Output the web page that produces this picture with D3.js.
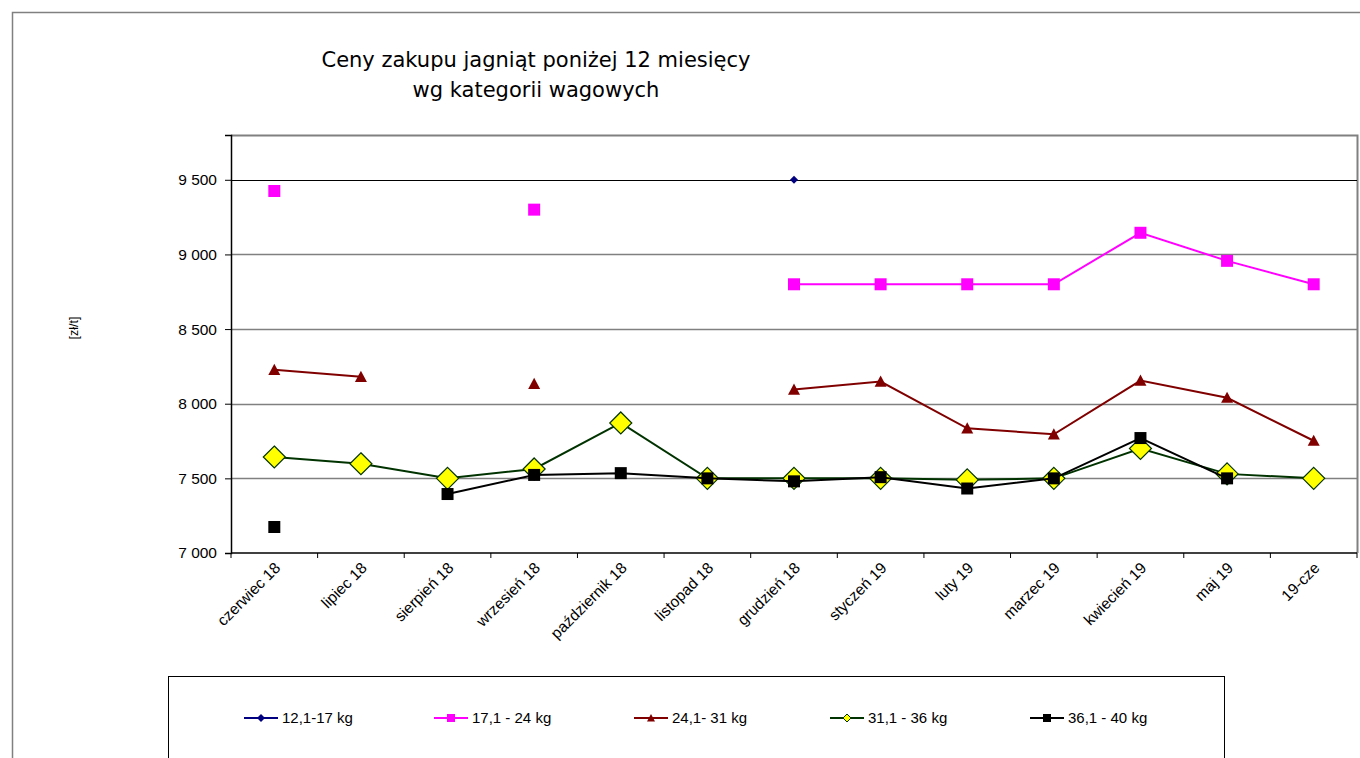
<!DOCTYPE html>
<html>
<head>
<meta charset="utf-8">
<script src="https://cdn.jsdelivr.net/npm/d3@7"></script>
<style>
  body { margin: 0; background: #fff; }
  text { font-family: Arial, "Liberation Sans", sans-serif; }
</style>
</head>
<body>
<div id="chart"></div>
<script>
// data
const months = ["czerwiec 18", "lipiec 18", "sierpień 18", "wrzesień 18", "październik 18", "listopad 18",
    "grudzień 18", "styczeń 19", "luty 19", "marzec 19", "kwiecień 19", "maj 19", "19-cze"];
const s12_17 = [null, null, null, null, null, null, 9500, null, null, null, null, null, null];
const s17_24 = [9425, null, null, 9300, null, null, 8800, 8800, 8800, 8800, 9145, 8957, 8800];
const s24_31 = [8227, 8180, null, 8133, null, null, 8095, 8148, 7835, 7795, 8155, 8040, 7752];
const s31_36 = [7643, 7598, 7500, 7563, 7871, 7500, 7500, 7500, 7490, 7500, 7700, 7530, 7500];
const s36_40 = [7174, null, 7395, 7523, 7535, 7500, 7480, 7508, 7432, 7500, 7770, 7500, null];
const seriesNames = ["12,1-17 kg", "17,1 - 24 kg", "24,1- 31 kg", "31,1 - 36 kg", "36,1 - 40 kg"];
const yTicks = [7000, 7500, 8000, 8500, 9000, 9500];

const series = [
    { name: seriesNames[0], values: s12_17, stroke: "#000080", fill: "#000080", shape: "diamond", size: 8 },
    { name: seriesNames[1], values: s17_24, stroke: "#ff00ff", fill: "#ff00ff", shape: "square", size: 12 },
    { name: seriesNames[2], values: s24_31, stroke: "#800000", fill: "#800000", shape: "triangle", size: 12 },
    { name: seriesNames[3], values: s31_36, stroke: "#003300", fill: "#ffff00", shape: "diamond", size: 22 },
    { name: seriesNames[4], values: s36_40, stroke: "#000000", fill: "#000000", shape: "square", size: 12 }
];

const W = 1360, H = 758;
const svg = d3.select("#chart").append("svg").attr("width", W).attr("height", H);

// outer chart frame
svg.append("path").attr("d", "M12.5,758 L12.5,12.5 L1360,12.5")
    .attr("fill", "none").attr("stroke", "#808080").attr("stroke-width", 1.5);

// title
svg.append("text").attr("x", 536).attr("y", 67).attr("text-anchor", "middle")
    .style("font-family", "'Comic Sans MS', 'DejaVu Sans', sans-serif").style("font-size", "21px")
    .text("Ceny zakupu jagniąt poniżej 12 miesięcy");
svg.append("text").attr("x", 536).attr("y", 97).attr("text-anchor", "middle")
    .style("font-family", "'Comic Sans MS', 'DejaVu Sans', sans-serif").style("font-size", "21px")
    .text("wg kategorii wagowych");

const pLeft = 231, pRight = 1357, pTop = 135, pBottom = 553;
const x = d3.scaleBand().domain(months).range([pLeft, pRight]);
const y = d3.scaleLinear().domain([7000, 9800]).range([pBottom, pTop]);

// plot frame (gray top/right)
svg.append("path").attr("d", `M${pLeft},${pTop + 0.5} L${pRight + 0.5},${pTop + 0.5} L${pRight + 0.5},${pBottom}`)
    .attr("fill", "none").attr("stroke", "#808080").attr("stroke-width", 2);

// gridlines
svg.append("g").selectAll("line").data(yTicks.filter(d => d > 7000)).join("line")
    .attr("x1", pLeft).attr("x2", pRight)
    .attr("y1", d => Math.round(y(d)) + 0.5).attr("y2", d => Math.round(y(d)) + 0.5)
    .attr("stroke", d => d === 9500 ? "#000" : "#808080")
    .attr("stroke-width", d => d === 9500 ? 1 : 1.5);

// y axis
const yAxis = svg.append("g").attr("transform", `translate(${pLeft},0)`)
    .call(d3.axisLeft(y).tickValues(yTicks).tickSize(6).tickPadding(8)
        .tickFormat(d => d3.format(",")(d).replace(",", " ")));
yAxis.select(".domain").attr("stroke", "#000").attr("stroke-width", 1.5);
yAxis.selectAll("text").style("font-size", "15.5px").attr("fill", "#000");

// x axis line + ticks between categories
svg.append("line").attr("x1", pLeft).attr("x2", pRight).attr("y1", pBottom).attr("y2", pBottom)
    .attr("stroke", "#000").attr("stroke-width", 1.5);
svg.append("g").selectAll("line").data(d3.range(months.length + 1)).join("line")
    .attr("x1", i => pLeft + i * x.step()).attr("x2", i => pLeft + i * x.step())
    .attr("y1", pBottom).attr("y2", pBottom + 5)
    .attr("stroke", "#000");
svg.append("g").selectAll("text").data(months).join("text")
    .attr("transform", d => `translate(${x(d) + x.bandwidth() / 2 + 7},${pBottom + 16}) rotate(-45)`)
    .attr("text-anchor", "end")
    .style("font-size", "15.5px")
    .text(d => d);

// y title
svg.append("text").attr("transform", "translate(78,328) rotate(-90)")
    .attr("text-anchor", "middle").style("font-size", "12.5px").text("[zł/t]");

function symbolPath(shape, size) {
    const h = size / 2;
    if (shape === "square") return `M${-h},${-h}H${h}V${h}H${-h}Z`;
    if (shape === "diamond") return `M0,${-h}L${h},0L0,${h}L${-h},0Z`;
    return `M0,${-h}L${h},${h * 0.85}L${-h},${h * 0.85}Z`;
}

const line = d3.line()
    .defined(d => d.v != null)
    .x(d => x(d.m) + x.bandwidth() / 2)
    .y(d => y(d.v));

series.forEach(s => {
    const pts = months.map((m, i) => ({ m: m, v: s.values[i] }));
    svg.append("path").datum(pts)
        .attr("fill", "none").attr("stroke", s.stroke).attr("stroke-width", 2)
        .attr("d", line);
    svg.append("g").selectAll("path").data(pts.filter(d => d.v != null)).join("path")
        .attr("transform", d => `translate(${x(d.m) + x.bandwidth() / 2},${y(d.v)})`)
        .attr("d", symbolPath(s.shape, s.size))
        .attr("fill", s.fill)
        .attr("stroke", s.shape === "diamond" && s.size > 10 ? s.stroke : "none")
        .attr("stroke-width", 1.2);
});

// legend
svg.append("rect").attr("x", 168.5).attr("y", 676.5).attr("width", 1056).attr("height", 100)
    .attr("fill", "none").attr("stroke", "#000").attr("stroke-width", 1);
const legendX = [244, 434, 634, 830, 1030];
const lg = svg.append("g").selectAll("g").data(series).join("g")
    .attr("transform", (d, i) => `translate(${legendX[i]},718)`);
lg.append("line").attr("x1", 0).attr("x2", 34)
    .attr("stroke", d => d.stroke).attr("stroke-width", 2);
lg.append("path").attr("transform", "translate(17,0)")
    .attr("d", d => symbolPath(d.shape, 8))
    .attr("fill", d => d.fill)
    .attr("stroke", d => d.shape === "diamond" && d.size > 10 ? d.stroke : "none");
lg.append("text").attr("x", 38).attr("y", 5).style("font-size", "15px").text(d => d.name);
</script>
</body>
</html>
